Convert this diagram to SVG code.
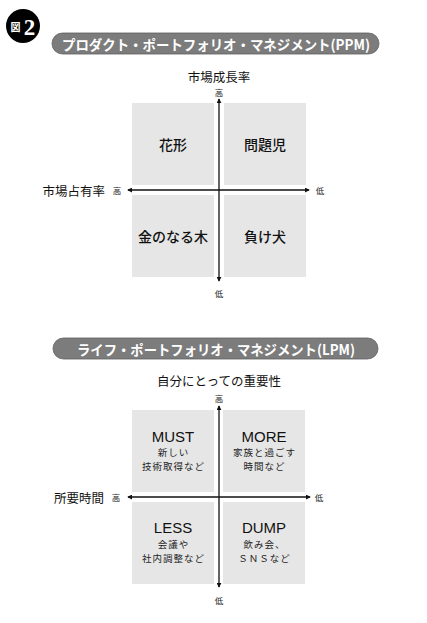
<svg xmlns="http://www.w3.org/2000/svg" width="427" height="623" viewBox="0 0 427 623">
<style>
.bg{fill:#ffffff}
.box{fill:#e6e6e6}
.pill{fill:#7c7c7c;stroke:#5e5e5e;stroke-width:0.8}
.pt{font-family:"Noto Sans CJK JP","Noto Sans",sans-serif;font-size:14px;font-weight:700;fill:#ffffff;text-anchor:middle;dominant-baseline:central}
.ax{font-family:"Noto Sans CJK JP",sans-serif;font-size:12.5px;fill:#111;dominant-baseline:central}
.sm{font-family:"Noto Sans CJK JP",sans-serif;font-size:8.5px;fill:#222;text-anchor:middle;dominant-baseline:central}
.lb{font-family:"Noto Sans CJK JP",sans-serif;font-size:14px;font-weight:500;fill:#111;text-anchor:middle;dominant-baseline:central}
.en{font-family:"Liberation Sans",Arial,sans-serif;font-size:15px;fill:#111;text-anchor:middle;dominant-baseline:central}
.sub{font-family:"Noto Sans CJK JP",sans-serif;font-size:9.5px;fill:#222;text-anchor:middle;dominant-baseline:central;letter-spacing:1px}
.axis{stroke:#111;stroke-width:1.3;fill:none;marker-start:url(#ah);marker-end:url(#ah)}
</style>
<defs>
<marker id="ah" viewBox="0 0 6 6" refX="5" refY="3" markerWidth="5" markerHeight="5" markerUnits="userSpaceOnUse" orient="auto-start-reverse">
<path d="M0,0 L6,3 L0,6 Z" fill="#111"/>
</marker>
</defs>
<rect class="bg" x="0" y="0" width="427" height="623"/>

<g id="badge">
<circle cx="23" cy="26" r="17" fill="#000"/>
<text x="15.5" y="26.5" font-family="Noto Sans CJK JP,sans-serif" font-size="10" font-weight="700" fill="#fff" text-anchor="middle" dominant-baseline="central">図</text>
<text x="29.5" y="27" font-family="Liberation Serif,serif" font-size="23" font-weight="700" fill="#fff" text-anchor="middle" dominant-baseline="central">2</text>
</g>

<g id="ppm-title">
<rect class="pill" x="52" y="33" width="327" height="21" rx="10.5"/>
<text class="pt" x="216" y="43.5" textLength="308" lengthAdjust="spacingAndGlyphs">プロダクト・ポートフォリオ・マネジメント(PPM)</text>
</g>

<g id="ppm-axes-labels">
<text class="ax" x="219" y="76" text-anchor="middle">市場成長率</text>
<text class="sm" x="219" y="92">高</text>
<text class="sm" x="219" y="293">低</text>
<text class="ax" x="105" y="190" text-anchor="end">市場占有率</text>
<text class="sm" x="117" y="190">高</text>
<text class="sm" x="320" y="190">低</text>
</g>

<g id="ppm-star"><rect class="box" x="132" y="103" width="82" height="82"/><text class="lb" x="173" y="144">花形</text></g>
<g id="ppm-problem"><rect class="box" x="224" y="103" width="82" height="82"/><text class="lb" x="265" y="144">問題児</text></g>
<g id="ppm-cash"><rect class="box" x="132" y="195" width="82" height="82"/><text class="lb" x="173" y="236">金のなる木</text></g>
<g id="ppm-dog"><rect class="box" x="224" y="195" width="82" height="82"/><text class="lb" x="265" y="236">負け犬</text></g>

<g id="lpm-title">
<rect class="pill" x="53" y="338" width="325" height="21" rx="10.5"/>
<text class="pt" x="216" y="348.5" textLength="278" lengthAdjust="spacingAndGlyphs">ライフ・ポートフォリオ・マネジメント(LPM)</text>
</g>

<g id="lpm-axes-labels">
<text class="ax" x="219" y="380" text-anchor="middle">自分にとっての重要性</text>
<text class="sm" x="219" y="398">高</text>
<text class="sm" x="219" y="600">低</text>
<text class="ax" x="104" y="497" text-anchor="end">所要時間</text>
<text class="sm" x="116" y="497">高</text>
<text class="sm" x="319" y="497">低</text>
</g>

<g id="lpm-must"><rect class="box" x="132" y="410" width="82" height="82"/>
<text class="en" x="173" y="436">MUST</text>
<text class="sub" x="173.5" y="452">新しい</text>
<text class="sub" x="173.5" y="466">技術取得など</text></g>
<g id="lpm-more"><rect class="box" x="223" y="410" width="82" height="82"/>
<text class="en" x="264" y="436">MORE</text>
<text class="sub" x="264.5" y="452">家族と過ごす</text>
<text class="sub" x="264.5" y="466">時間など</text></g>
<g id="lpm-less"><rect class="box" x="132" y="502" width="82" height="82"/>
<text class="en" x="173" y="527">LESS</text>
<text class="sub" x="173.5" y="544">会議や</text>
<text class="sub" x="173.5" y="558">社内調整など</text></g>
<g id="lpm-dump"><rect class="box" x="223" y="502" width="82" height="82"/>
<text class="en" x="264" y="527">DUMP</text>
<text class="sub" x="264.5" y="544">飲み会、</text>
<text class="sub" x="264.5" y="558">ＳＮＳなど</text></g>

<g id="connectors">
<line class="axis" x1="219" y1="281" x2="219" y2="99"/>
<line class="axis" x1="128" y1="190" x2="309" y2="190"/>
<line class="axis" x1="219" y1="587" x2="219" y2="406"/>
<line class="axis" x1="128" y1="497" x2="310" y2="497"/>
</g>
</svg>
